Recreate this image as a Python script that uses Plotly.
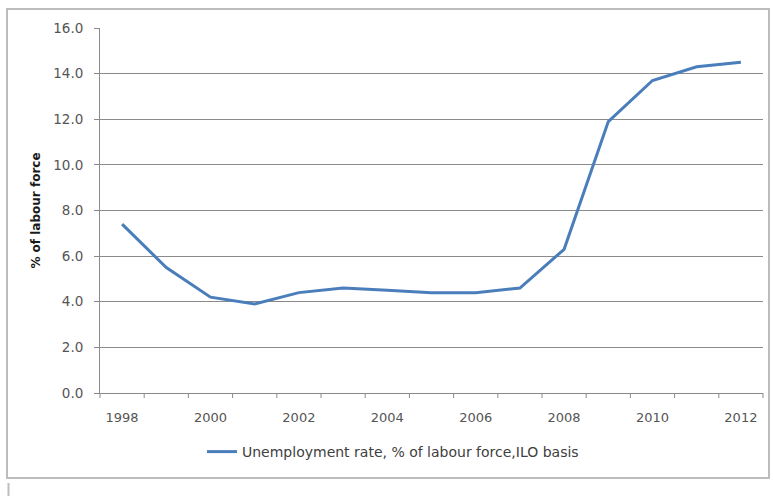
import plotly.graph_objects as go

# Annual unemployment rate (% of labour force, ILO basis)
years = [str(y) for y in range(1998, 2013)]
rate = [7.4, 5.5, 4.2, 3.9, 4.4, 4.6, 4.5, 4.4, 4.4, 4.6, 6.3, 11.9, 13.7, 14.3, 14.5]
series_name = "Unemployment rate, % of labour force,ILO basis"
y_ticks = [0, 2, 4, 6, 8, 10, 12, 14, 16]
x_tick_labels = [str(y) for y in range(1998, 2013, 2)]

W, H = 773, 496
L, R, T, B = 100, 10, 28, 103   # plot area: x 100..763, y 28..393
pw, ph = W - L - R, H - T - B

def px_x(p):
    return (p - L) / pw

def px_y(p):
    return (H - B - p) / ph

FONT = "DejaVu Sans"
GRID = "#8a8a8a"
TEXT = "#555555"

fig = go.Figure()
fig.add_trace(go.Scatter(
    x=years, y=rate, mode="lines", name=series_name,
    line=dict(color="#4a7ebb", width=3),
    showlegend=True,
))

fig.update_layout(
    width=W, height=H,
    margin=dict(l=L, r=R, t=T, b=B),
    paper_bgcolor="white", plot_bgcolor="white",
    font=dict(family=FONT, size=13, color=TEXT),
    showlegend=True,
    legend=dict(
        x=px_x(202), y=px_y(452), xanchor="left", yanchor="middle",
        orientation="h", bgcolor="rgba(0,0,0,0)", borderwidth=0,
        font=dict(family=FONT, size=14, color="#404040"),
        itemwidth=30,
    ),
    xaxis=dict(
        type="category",
        range=[-0.5, len(years) - 0.5],
        tickmode="array", tickvals=x_tick_labels, ticktext=x_tick_labels,
        showgrid=False, zeroline=False,
        showline=True, linecolor=GRID, linewidth=1,
        ticks="", ticklabelstandoff=12,
        tickfont=dict(family=FONT, size=13, color=TEXT),
        fixedrange=True,
    ),
    yaxis=dict(
        range=[0, 16],
        tickmode="array", tickvals=y_ticks,
        ticktext=[f"{v:.1f}" for v in y_ticks],
        showgrid=True, gridcolor=GRID, gridwidth=1,
        zeroline=False,
        showline=True, linecolor=GRID, linewidth=1,
        ticks="outside", ticklen=5, tickcolor=GRID,
        ticklabelstandoff=8,
        tickfont=dict(family=FONT, size=13.5, color=TEXT),
        title=dict(text="% of labour force",
                   font=dict(family=FONT, size=12, color="#1a1a1a", weight="bold"),
                   standoff=10),
        fixedrange=True,
    ),
)

# Category boundary tick marks below the x axis (between year labels)
shapes = []
for i in range(len(years) + 1):
    xb = i / len(years)
    shapes.append(dict(type="line", xref="paper", yref="paper",
                       x0=xb, x1=xb, y0=0, y1=-5 / ph,
                       line=dict(color=GRID, width=1)))

# Chart frame
shapes.append(dict(type="rect", xref="paper", yref="paper",
                   x0=px_x(7), x1=px_x(769), y0=px_y(478), y1=px_y(9),
                   line=dict(color="#bdbdbd", width=2), layer="below"))
# Edge of the next panel below
shapes.append(dict(type="line", xref="paper", yref="paper",
                   x0=px_x(8.5), x1=px_x(8.5), y0=px_y(483), y1=px_y(497),
                   line=dict(color="#bdbdbd", width=2)))
fig.update_layout(shapes=shapes)

fig.write_html("out.html")
